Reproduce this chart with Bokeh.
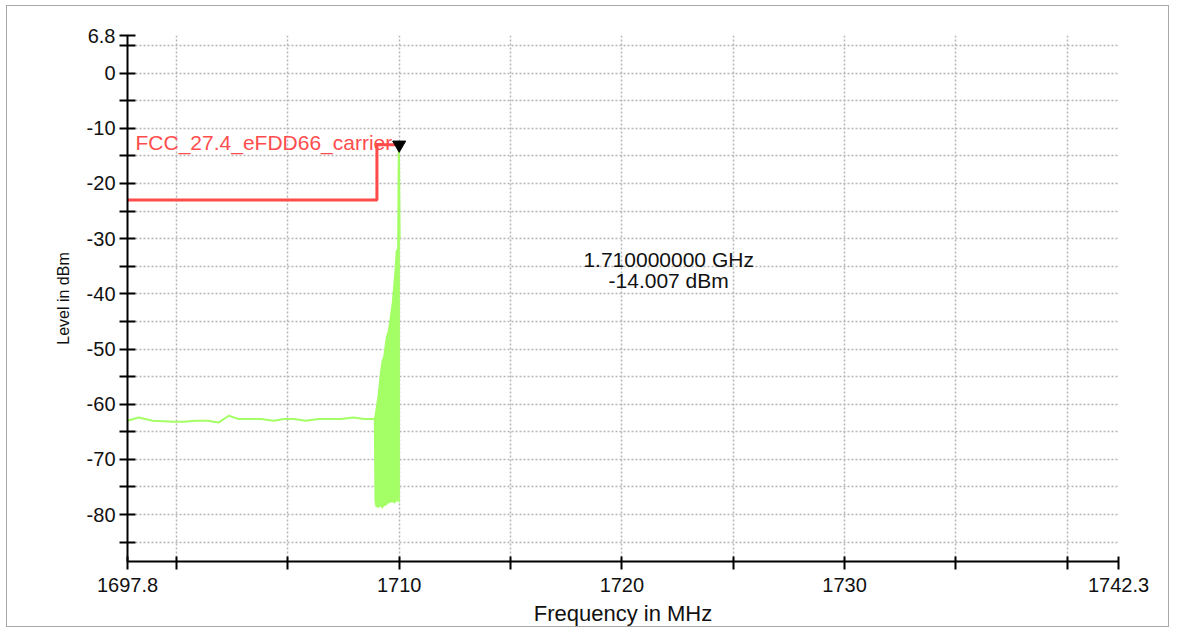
from bokeh.plotting import figure
from bokeh.models import Range1d, FixedTicker, Label
from bokeh.embed import file_html
from bokeh.resources import INLINE

# ---- data ----
floor_freq = [1697.80, 1698.30, 1698.93, 1699.87, 1700.32, 1700.86, 1701.40, 1701.90,
              1702.35, 1702.80, 1703.79, 1704.38, 1704.83, 1705.28, 1705.82, 1706.36,
              1707.39, 1707.94, 1708.43, 1708.88]
floor_level = [-63.0, -62.4, -63.0, -63.2, -63.2, -63.0, -63.0, -63.3,
               -62.1, -62.7, -62.7, -63.0, -62.7, -62.7, -63.0, -62.7,
               -62.7, -62.4, -62.7, -62.7]

band_freq = [1708.86, 1708.89, 1708.93, 1709.07, 1709.16, 1709.24, 1709.32, 1709.43,
             1709.52, 1709.61, 1709.70, 1709.82, 1709.88, 1709.94, 1709.97, 1710.00,
             1710.03]
band_top = [-62.7, -62.9, -62.0, -58.2, -54.6, -52.2, -51.3, -47.9,
            -46.8, -44.3, -41.6, -36.0, -32.1, -32.1, -14.1, -14.007,
            -30.0]
band_bottom = [-62.7, -77.5, -78.6, -78.8, -78.5, -79.0, -78.5, -78.3,
               -78.0, -77.8, -77.8, -78.0, -77.5, -77.8, -77.5, -77.8,
               -78.0]

limit_name = "FCC_27.4_eFDD66_carrier"
limit_freq = [1697.8, 1709.0, 1709.0, 1710.0]
limit_level = [-23.0, -23.0, -13.0, -13.0]

peak_freq = 1710.0
peak_level = -14.007

x_ticks = [1697.8, 1700, 1705, 1710, 1715, 1720, 1725, 1730, 1735, 1740, 1742.3]
x_tick_labels = ["1697.8", "", "", "1710", "", "1720", "", "1730", "", "", "1742.3"]
y_ticks = [6.8, 5, 0, -5, -10, -15, -20, -25, -30, -35, -40, -45, -50, -55,
           -60, -65, -70, -75, -80, -85]
y_tick_labels = ["6.8", "", "0", "", "-10", "", "-20", "", "-30", "", "-40", "",
                 "-50", "", "-60", "", "-70", "", "-80", ""]

FONT = "'Liberation Sans', Arial, sans-serif"

p = figure(width=1163, height=622, output_backend="svg", toolbar_location=None,
           x_range=Range1d(1697.8, 1742.3), y_range=Range1d(-88.5, 6.8),
           min_border_left=120, min_border_right=52, min_border_top=29,
           min_border_bottom=65)
p.margin = (5, 0, 0, 6)
p.styles = {"border": "1px solid #a8a8a8"}
p.outline_line_color = None
p.background_fill_color = "white"
p.border_fill_color = "white"

# axes
p.xaxis.ticker = FixedTicker(ticks=x_ticks, minor_ticks=[])
p.yaxis.ticker = FixedTicker(ticks=y_ticks, minor_ticks=[])
p.xaxis.major_label_overrides = {t: l for t, l in zip(x_ticks, x_tick_labels)}
p.yaxis.major_label_overrides = {t: l for t, l in zip(y_ticks, y_tick_labels)}
for ax in (p.xaxis[0], p.yaxis[0]):
    ax.axis_line_color = "black"
    ax.axis_line_width = 2
    ax.major_tick_line_color = "black"
    ax.major_tick_line_width = 2
    ax.minor_tick_line_color = None
    ax.major_label_text_font = FONT
    ax.major_label_text_font_size = "20px"
    ax.major_label_text_color = "#111111"
    ax.axis_label_text_font_style = "normal"
    ax.axis_label_text_color = "#111111"
p.xaxis.major_tick_in = 5
p.xaxis.major_tick_out = 8
p.yaxis.major_tick_in = 8
p.yaxis.major_tick_out = 8
p.xaxis.major_label_standoff = 8
p.yaxis.major_label_standoff = 4
p.xaxis.axis_label = "Frequency in MHz"
p.xaxis.axis_label_text_font = FONT
p.xaxis.axis_label_text_font_size = "22px"
p.xaxis.axis_label_standoff = 6
p.yaxis.axis_label = "Level in dBm"
p.yaxis.axis_label_text_font = FONT
p.yaxis.axis_label_text_font_size = "16px"
p.yaxis.axis_label_standoff = 12

# grid
for g in (p.xgrid[0], p.ygrid[0]):
    g.grid_line_color = "#b5b5b5"
    g.grid_line_dash = "2 2"
    g.grid_line_width = 1.5

# limit line
p.line(limit_freq, limit_level, line_color="#ff4a4a", line_width=3)
p.add_layout(Label(x=limit_freq[0], y=limit_level[-1], x_offset=8, y_offset=2,
                   text=limit_name, text_color="#ff4d4d", text_font=FONT,
                   text_font_size="21px", text_baseline="alphabetic"))

# trace
p.line(floor_freq, floor_level, line_color="#a4ff66", line_width=2)
p.varea(x=band_freq, y1=band_bottom, y2=band_top, fill_color="#a4ff66")
p.line(band_freq, band_top, line_color="#a4ff66", line_width=1.5)

# marker
p.scatter([peak_freq], [peak_level + 1.0], marker="inverted_triangle", size=13,
          fill_color="black", line_color="black")

p.add_layout(Label(x=1722.1, y=-33.7, text=f"{peak_freq / 1000:.9f} GHz",
                   text_align="center", text_baseline="middle", text_font=FONT,
                   text_font_size="21px", text_color="#111111"))
p.add_layout(Label(x=1722.1, y=-37.5, text=f"{peak_level:.3f} dBm",
                   text_align="center", text_baseline="middle", text_font=FONT,
                   text_font_size="21px", text_color="#111111"))

open("out.html", "w").write(file_html(p, INLINE))
